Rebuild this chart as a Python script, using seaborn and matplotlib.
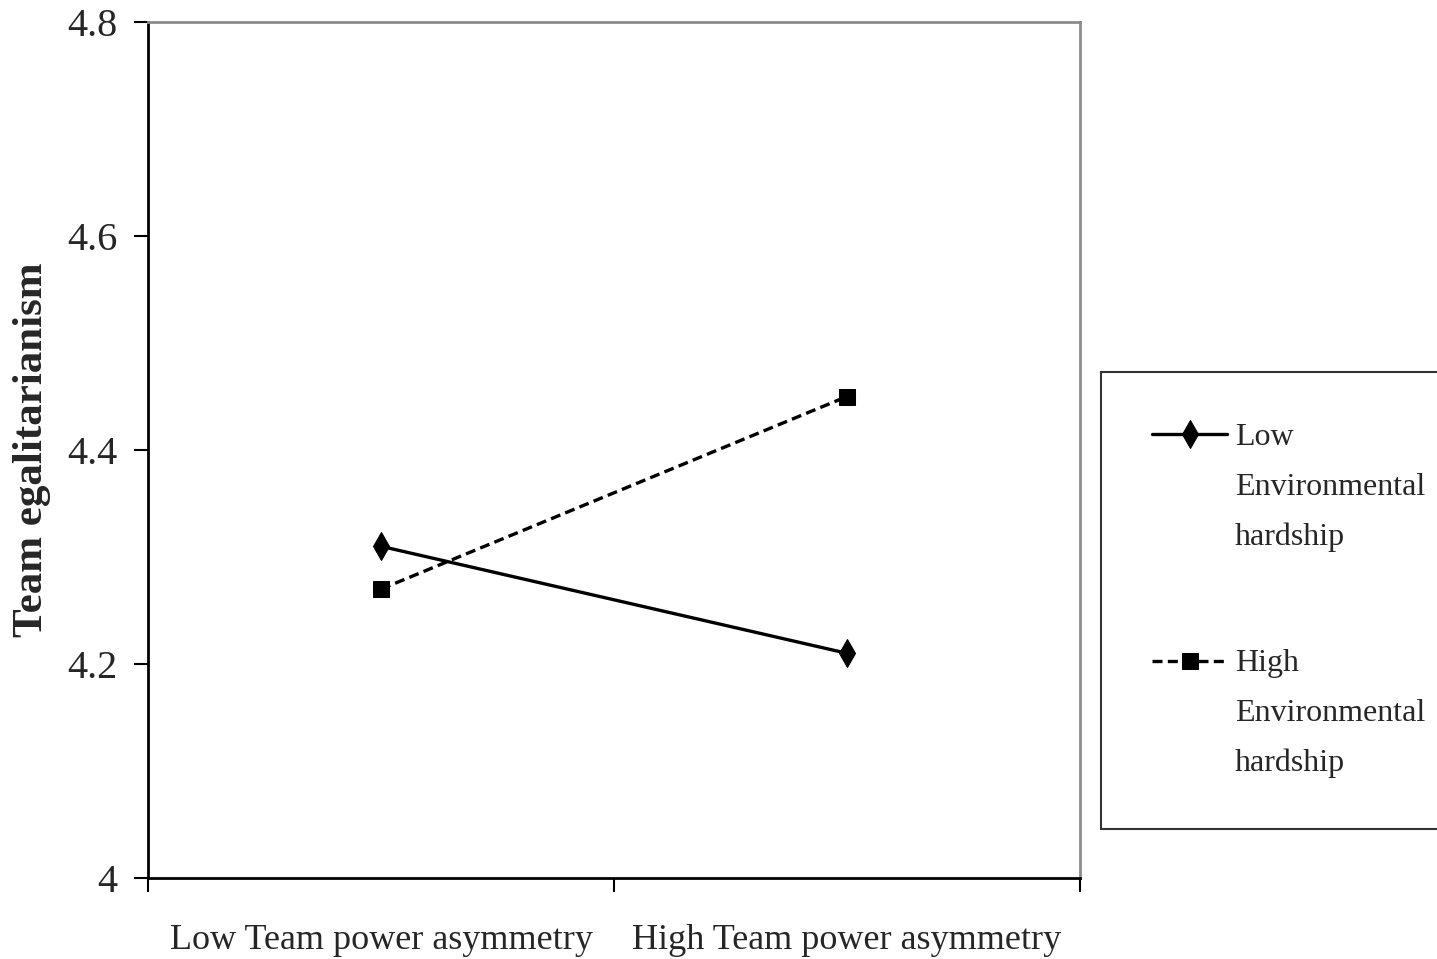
import matplotlib
matplotlib.use("Agg")
import matplotlib.pyplot as plt
import seaborn as sns
import pandas as pd

categories = ["Low Team power asymmetry", "High Team power asymmetry"]
low_hardship = [4.31, 4.21]
high_hardship = [4.27, 4.45]
series_labels = ["Low\nEnvironmental\nhardship", "High\nEnvironmental\nhardship"]
y_ticks = [4.0, 4.2, 4.4, 4.6, 4.8]
y_ticklabels = ["4", "4.2", "4.4", "4.6", "4.8"]

sns.set_theme(style="white")
plt.rcParams["font.family"] = ["Liberation Serif", "DejaVu Serif"]

fig = plt.figure(figsize=(14.37, 9.59), dpi=100)
ax = fig.add_axes([148/1437, 81/959, (1080-148)/1437, (878-22)/959])

pos = [0.5, 1.5]
df = pd.DataFrame({
    "x": pos * 2,
    "y": low_hardship + high_hardship,
    "series": [series_labels[0]] * 2 + [series_labels[1]] * 2,
})

sns.lineplot(data=df[df.series == series_labels[0]], x="x", y="y", ax=ax,
             color="black", lw=2.4, marker="d", markersize=14,
             markeredgecolor="black", label=series_labels[0])
sns.lineplot(data=df[df.series == series_labels[1]], x="x", y="y", ax=ax,
             color="black", lw=2.4, marker="s", markersize=11, linestyle=(0, (3, 1.6)),
             markeredgecolor="black", label=series_labels[1])

ax.set_xlim(0, 2)
ax.set_ylim(4.0, 4.8)
ax.set_yticks(y_ticks)
ax.set_yticklabels(y_ticklabels, fontsize=29)
ax.set_xticks([0, 1, 2])
ax.set_xticklabels([])
ax.set_xticks(pos, minor=True)
ax.set_xticklabels(categories, minor=True, fontsize=26)
ax.tick_params(axis="x", which="minor", length=0, pad=33)
ax.tick_params(axis="x", which="major", direction="out", length=10, width=1.5, color="black", bottom=True)
ax.tick_params(axis="y", direction="out", length=10, width=1.5, color="black", pad=12, left=True)
ax.set_xlabel("")
ax.set_ylabel("Team egalitarianism", fontsize=31, fontweight="bold")
ax.yaxis.set_label_coords((51 - 148) / 932, 0.5)

for s in ["left", "bottom"]:
    ax.spines[s].set_color("black")
    ax.spines[s].set_linewidth(2)
for s in ["top", "right"]:
    ax.spines[s].set_color("#8c8c8c")
    ax.spines[s].set_linewidth(2)

ax.get_legend().remove()
handles, labels = ax.get_legend_handles_labels()
leg = fig.legend(handles, labels, loc="upper left",
                 bbox_to_anchor=(1101/1437, 1 - 372/959), borderaxespad=0,
                 fontsize=23, frameon=True, fancybox=False,
                 handlelength=2.35, handletextpad=0.25, labelspacing=3.05,
                 borderpad=1.6, edgecolor="black")
leg.get_frame().set_linewidth(1.5)
for t in leg.get_texts():
    t.set_linespacing(1.93)
for col in leg._legend_handle_box.get_children():
    for hp in col.get_children():
        hp.align = "top"

fig.savefig("out.png", dpi=100)
